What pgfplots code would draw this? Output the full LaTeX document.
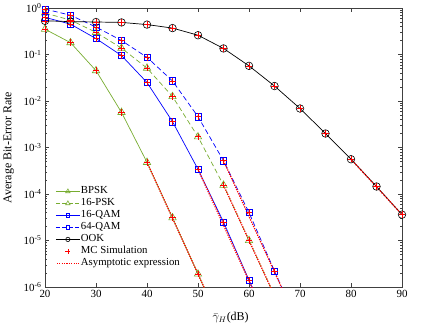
\documentclass[border=0pt]{standalone}
\usepackage{fontspec}
\setmainfont{Liberation Serif}
\usepackage{pgfplots}
\pgfplotsset{compat=1.18}
\definecolor{mgreen}{RGB}{119,172,48}
\begin{document}
\begin{tikzpicture}
\begin{axis}[
  scale only axis,
  width=357bp, height=279bp,
  xmin=20, xmax=90,
  ymode=log, ymin=1e-6, ymax=1,
  xtick={20,30,...,90},
  ytick={1e-6,1e-5,1e-4,1e-3,1e-2,1e-1,1},
  yticklabels={10\textsuperscript{-6},10\textsuperscript{-5},10\textsuperscript{-4},10\textsuperscript{-3},10\textsuperscript{-2},10\textsuperscript{-1},10\textsuperscript{0}},
  /pgf/number format/assume math mode=true,
  tick label style={font=\fontsize{11}{13}\selectfont},
  tick align=inside,
  xtick pos=both, ytick pos=both,
  major tick length=4bp, minor tick length=2bp,
  axis line style={black!75, line width=0.5pt},
  every tick/.style={black!75},
  xlabel={$\bar{\gamma}_H$(dB)},
  ylabel={Average Bit-Error Rate},
  label style={font=\fontsize{12}{14}\selectfont},
  xlabel style={at={(axis description cs:0.52,-0.11)}, anchor=center},
  ylabel style={at={(axis description cs:-0.102,0.5)}, anchor=center},
  legend style={at={(axis description cs:0.02,0.37)}, anchor=north west,
    draw=none, fill=none, font=\fontsize{10.8}{12}\selectfont,
    row sep=1pt, nodes={inner sep=0.5pt, text height=7.5bp, text depth=2.5bp}},
  legend cell align=left,
]
% BPSK
\addplot[mgreen, line width=0.7pt, mark=triangle, mark size=4.3pt, mark options={solid, line width=0.6pt},
  legend image code/.code={\draw[mgreen, solid, line width=1.1pt] (0bp,0bp) -- (24bp,0bp);
    \draw[mgreen, solid, line width=0.8pt, mark size=2.6pt] plot[mark=triangle] coordinates {(12bp,0bp)};}]
 coordinates {(20,0.35) (25,0.18) (30,0.045) (35,5.7e-3) (40,4.8e-4) (45,3.1e-5) (50,1.9e-6)};
\addlegendentry{BPSK}
% 16-PSK
\addplot[mgreen, line width=0.7pt, dash pattern=on 5pt off 3pt, mark=triangle, mark size=4.3pt, mark options={solid, line width=0.6pt},
  legend image code/.code={\draw[mgreen, line width=1.1pt, dash pattern=on 4pt off 2.5pt] (0bp,0bp) -- (24bp,0bp);
    \draw[mgreen, solid, line width=0.8pt, mark size=2.6pt] plot[mark=triangle] coordinates {(12bp,0bp)};}]
 coordinates {(20,0.78) (25,0.55) (30,0.30) (35,0.137) (40,0.051) (45,0.0125) (50,1.7e-3) (55,1.55e-4) (60,1.0e-5)};
\addlegendentry{16-PSK}
% 16-QAM
\addplot[blue, line width=0.7pt, mark=square, mark size=3.2pt, mark options={solid, line width=0.6pt},
  legend image code/.code={\draw[blue, solid, line width=1.1pt] (0bp,0bp) -- (24bp,0bp);
    \draw[blue, solid, line width=0.8pt, mark size=1.8pt] plot[mark=square] coordinates {(12bp,0bp)};}]
 coordinates {(20,0.63) (25,0.45) (30,0.22) (35,0.095) (40,0.025) (45,3.6e-3) (50,3.4e-4) (55,2.5e-5) (60,1.4e-6)};
\addlegendentry{16-QAM}
% 64-QAM
\addplot[blue, line width=0.7pt, dash pattern=on 5pt off 3pt, mark=square, mark size=3.2pt, mark options={solid, line width=0.6pt},
  legend image code/.code={\draw[blue, line width=1.1pt, dash pattern=on 4pt off 2.5pt] (0bp,0bp) -- (24bp,0bp);
    \draw[blue, solid, line width=0.8pt, mark size=1.8pt] plot[mark=square] coordinates {(12bp,0bp)};}]
 coordinates {(20,0.95) (25,0.7) (30,0.39) (35,0.2) (40,0.087) (45,0.027) (50,4.6e-3) (55,5.2e-4) (60,4.0e-5) (65,2.2e-6)};
\addlegendentry{64-QAM}
% OOK
\addplot[black, line width=0.7pt, mark=o, mark size=3.8pt, mark options={solid, line width=0.6pt},
  legend image code/.code={\draw[black, solid, line width=1.1pt] (0bp,0bp) -- (24bp,0bp);
    \draw[black, solid, line width=0.8pt, mark size=2.2pt] plot[mark=o] coordinates {(12bp,0bp)};}]
 coordinates {(20,0.53) (25,0.51) (30,0.5) (35,0.49) (40,0.44) (45,0.37) (50,0.26) (55,0.135) (60,0.057) (65,0.021) (70,6.9e-3) (75,2.0e-3) (80,5.6e-4) (85,1.45e-4) (90,3.6e-5)};
\addlegendentry{OOK}
% extensions below the axis
\addplot[mgreen, line width=0.7pt, forget plot] coordinates {(50,1.9e-6) (52,6.0e-7)};
\addplot[mgreen, line width=0.7pt, dash pattern=on 5pt off 3pt, forget plot] coordinates {(60,1.0e-5) (65,6.5e-7)};
\addplot[blue, line width=0.7pt, forget plot] coordinates {(60,1.4e-6) (62,4.5e-7)};
\addplot[blue, line width=0.7pt, dash pattern=on 5pt off 3pt, forget plot] coordinates {(65,2.2e-6) (67,7.0e-7)};
% MC simulation
\addplot[red, only marks, mark=+, mark size=3.2pt, line width=0.6pt,
  legend image code/.code={\draw[red, solid, line width=0.7pt, mark size=2.6pt] plot[mark=+] coordinates {(12bp,0bp)};}]
 coordinates {
 (20,0.35) (25,0.18) (30,0.045) (35,5.7e-3) (40,4.8e-4) (45,3.1e-5) (50,1.9e-6)
 (20,0.78) (25,0.55) (30,0.30) (35,0.137) (40,0.051) (45,0.0125) (50,1.7e-3) (55,1.55e-4) (60,1.0e-5)
 (20,0.63) (25,0.45) (30,0.22) (35,0.095) (40,0.025) (45,3.6e-3) (50,3.4e-4) (55,2.5e-5) (60,1.4e-6)
 (20,0.95) (25,0.7) (30,0.39) (35,0.2) (40,0.087) (45,0.027) (50,4.6e-3) (55,5.2e-4) (60,4.0e-5) (65,2.2e-6)
 (20,0.53) (25,0.51) (30,0.5) (35,0.49) (40,0.44) (45,0.37) (50,0.26) (55,0.135) (60,0.057) (65,0.021) (70,6.9e-3) (75,2.0e-3) (80,5.6e-4) (85,1.45e-4) (90,3.6e-5)
 };
\addlegendentry{MC Simulation}
% asymptotic expressions
\addplot[red, line width=1.3pt, dash pattern=on 1.2pt off 1.2pt,
  legend image code/.code={\draw[red, line width=1.6pt, dash pattern=on 1.2pt off 1.2pt] (1bp,0bp) -- (23bp,0bp);}] coordinates {(40,4.8e-4) (52,6.3e-7)};
\addlegendentry{Asymptotic expression}
\addplot[red, line width=1.3pt, dash pattern=on 1.2pt off 1.2pt, forget plot] coordinates {(55,1.55e-4) (65,6.5e-7)};
\addplot[red, line width=1.3pt, dash pattern=on 1.2pt off 1.2pt, forget plot] coordinates {(50,3.4e-4) (62,4.5e-7)};
\addplot[red, line width=1.3pt, dash pattern=on 1.2pt off 1.2pt, forget plot] coordinates {(55,5.2e-4) (67,7.0e-7)};
\addplot[red, line width=1.3pt, dash pattern=on 1.2pt off 1.2pt, forget plot] coordinates {(80,5.6e-4) (90,3.6e-5)};
\end{axis}
\pgfresetboundingbox
\path ([shift={(-45bp,-40bp)}]current axis.south west) rectangle ([shift={(25bp,8bp)}]current axis.north east);
\end{tikzpicture}
\end{document}
